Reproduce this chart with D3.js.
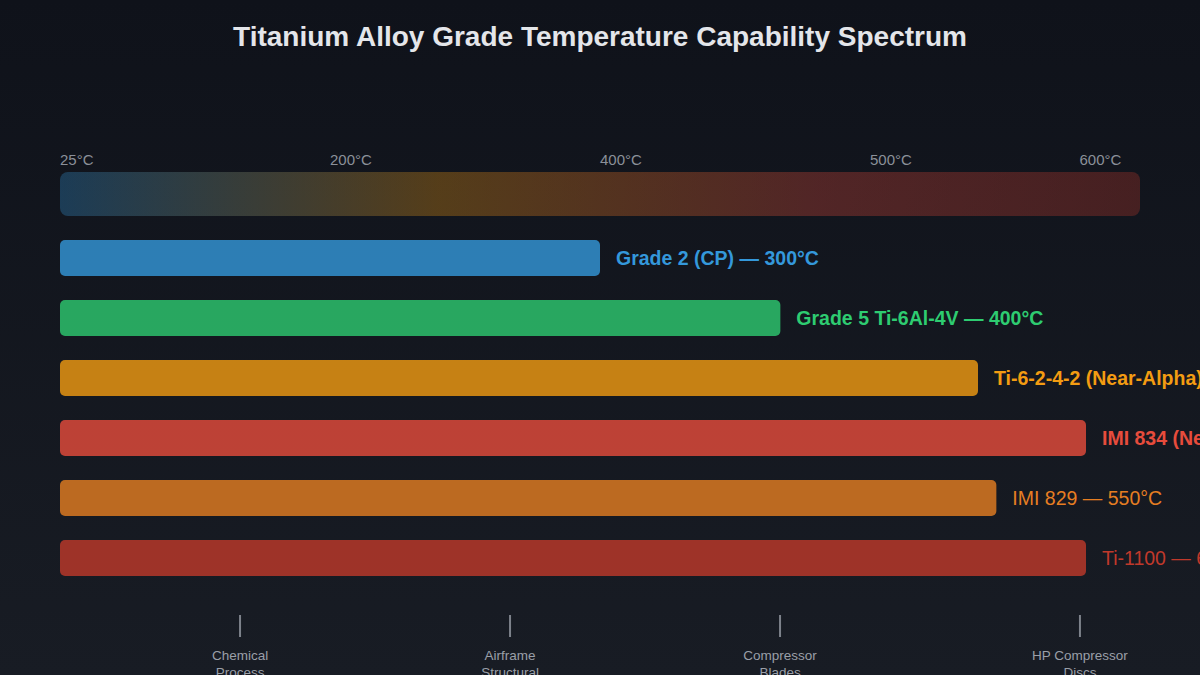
<!DOCTYPE html>
<html lang="en">
<head>
<meta charset="utf-8">
<title>Titanium Alloy Grade Temperature Capability Spectrum</title>
<script src="https://cdn.jsdelivr.net/npm/d3@7"></script>
<style>
  html, body { margin: 0; padding: 0; background: #12161d; }
  svg { display: block; font-family: "Liberation Sans", Arial, Helvetica, sans-serif; }
</style>
</head>
<body>
<svg id="chart" width="1200" height="675"></svg>
<script>
// alloy grades, their rated temperature and how far the bar fills the spectrum (%)
const alloys = ["Grade 2 (CP)", "Grade 5 Ti-6Al-4V", "Ti-6-2-4-2 (Near-Alpha)", "IMI 834 (Near-Alpha)", "IMI 829", "Ti-1100"];
const temps = [300, 400, 540, 600, 550, 600];
const fillPct = [50, 66.7, 85, 95, 86.7, 95];
const barColors = ["#3498db", "#2ecc71", "#f39c12", "#e74c3c", "#e67e22", "#c0392b"];
const boldLabel = [true, true, true, true, false, false];

// spectrum tick labels and where they sit (% along the bar)
const tickLabels = ["25°C", "200°C", "400°C", "500°C", "600°C"];
const tickPct = [0, 25, 50, 75, 94.4];

// application markers below the bars
const appLabels = [["Chemical", "Process"], ["Airframe", "Structural"], ["Compressor", "Blades"], ["HP Compressor", "Discs"]];
const appPct = [16.67, 41.67, 66.67, 94.44];

const svg = d3.select("#chart");
const W = 1200, H = 675;
const margin = { left: 60, right: 60 };

const defs = svg.append("defs");
const bg = defs.append("linearGradient").attr("id", "bg")
  .attr("x1", 0).attr("y1", 0).attr("x2", 0).attr("y2", 1);
bg.append("stop").attr("offset", "0%").attr("stop-color", "#0f121a");
bg.append("stop").attr("offset", "100%").attr("stop-color", "#181c24");

const spec = defs.append("linearGradient").attr("id", "spec");
[["0%", "#3498db"], ["35%", "#f39c12"], ["70%", "#e74c3c"], ["100%", "#c0392b"]].forEach(s => {
  spec.append("stop").attr("offset", s[0]).attr("stop-color", s[1]);
});

svg.append("rect").attr("width", W).attr("height", H).attr("fill", "url(#bg)");

svg.append("text")
  .attr("x", W / 2).attr("y", 46)
  .attr("text-anchor", "middle")
  .attr("fill", "#e4e6ea")
  .attr("font-size", 28).attr("font-weight", "bold")
  .text("Titanium Alloy Grade Temperature Capability Spectrum");

const x = d3.scaleLinear().domain([0, 100]).range([margin.left, W - margin.right]);

// spectrum ticks
svg.append("g").selectAll("text")
  .data(tickLabels)
  .join("text")
  .attr("x", (d, i) => x(tickPct[i]))
  .attr("y", 165)
  .attr("fill", "#8b9099")
  .attr("font-size", 15)
  .text(d => d);

// spectrum band
svg.append("rect")
  .attr("x", x(0)).attr("y", 172)
  .attr("width", x(100) - x(0)).attr("height", 44)
  .attr("rx", 8)
  .attr("fill", "url(#spec)")
  .attr("opacity", 0.3);

const y = d3.scaleBand().domain(alloys).range([228, 588]).paddingInner(0.4).paddingOuter(0.2);

const rows = svg.append("g").selectAll("g")
  .data(alloys)
  .join("g");

rows.append("rect")
  .attr("x", x(0))
  .attr("y", d => y(d))
  .attr("width", (d, i) => x(fillPct[i]) - x(0))
  .attr("height", y.bandwidth())
  .attr("rx", 5)
  .attr("fill", (d, i) => barColors[i])
  .attr("opacity", 0.8);

rows.append("text")
  .attr("x", (d, i) => x(fillPct[i]) + 16)
  .attr("y", d => y(d) + y.bandwidth() / 2)
  .attr("dy", "0.35em")
  .attr("fill", (d, i) => barColors[i])
  .attr("font-size", 19.5)
  .attr("font-weight", (d, i) => boldLabel[i] ? "bold" : "normal")
  .text((d, i) => d + " — " + temps[i] + "°C");

// application markers
const apps = svg.append("g").selectAll("g")
  .data(appLabels)
  .join("g")
  .attr("transform", (d, i) => `translate(${x(appPct[i])},0)`);

apps.append("line")
  .attr("y1", 615).attr("y2", 637)
  .attr("stroke", "#7d828b").attr("stroke-width", 2);

apps.append("text")
  .attr("text-anchor", "middle")
  .attr("y", 660)
  .attr("fill", "#9a9fa8")
  .attr("font-size", 13.5)
  .selectAll("tspan")
  .data(d => d)
  .join("tspan")
  .attr("x", 0)
  .attr("dy", (d, i) => i ? 17 : 0)
  .text(d => d);
</script>
</body>
</html>
